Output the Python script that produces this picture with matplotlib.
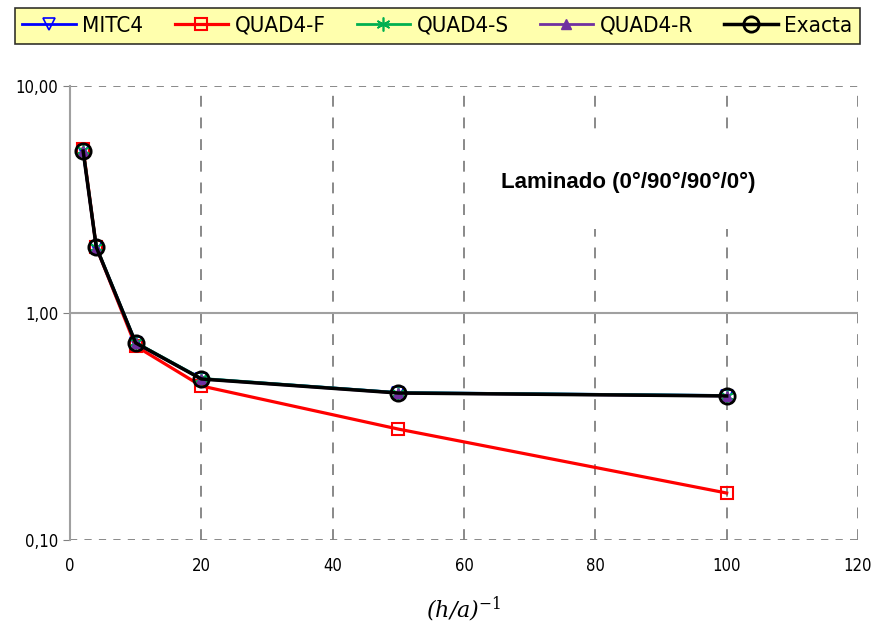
import matplotlib.pyplot as plt
from matplotlib.ticker import FixedLocator, NullLocator

x = [2, 4, 10, 20, 50, 100]
mitc4 = [5.22, 1.96, 0.740, 0.514, 0.446, 0.433]
quad4_f = [5.30, 1.95, 0.715, 0.477, 0.308, 0.161]
quad4_s = [5.25, 1.96, 0.742, 0.515, 0.446, 0.433]
quad4_r = [5.15, 1.94, 0.736, 0.512, 0.444, 0.431]
exacta = [5.17, 1.95, 0.738, 0.512, 0.444, 0.431]

yticks = [0.1, 1, 10]
ylabels = ['0,10', '1,00', '10,00']
xticks = [0, 20, 40, 60, 80, 100, 120]

plt.rcParams['mathtext.fontset'] = 'dejavuserif'

fig = plt.figure(figsize=(8.75, 6.26), dpi=100)
ax = fig.add_axes([0.08, 0.1374, 0.9006, 0.7252])

ax.plot(x, mitc4, color='blue', lw=2, marker='v', ms=8, mfc='none', mew=1.2, label='MITC4')
ax.plot(x, quad4_f, color='red', lw=2.3, marker='s', ms=9, mfc='none', mew=1.5, label='QUAD4-F')
ax.plot(x, quad4_s, color='#00b050', lw=2, marker=(6, 2, 0), ms=10, mew=1.2, label='QUAD4-S')
ax.plot(x, quad4_r, color='#7030a0', lw=2, marker='^', ms=7, label='QUAD4-R')
ax.plot(x, exacta, color='black', lw=2.5, marker='o', ms=11, mfc='none', mew=2, label='Exacta')

ax.set_yscale('log')
ax.set_xlim(0, 120)
ax.set_ylim(0.1, 10)
ax.yaxis.set_major_locator(FixedLocator(yticks))
ax.yaxis.set_minor_locator(NullLocator())
ax.set_yticklabels(ylabels, family='DejaVu Sans', stretch='condensed', fontsize=12)
ax.set_xticks(xticks)
ax.set_xticklabels([str(v) for v in xticks], family='DejaVu Sans', stretch='condensed', fontsize=12)
ax.tick_params(axis='x', length=0, pad=12)
ax.tick_params(axis='y', length=5, color='#808080')

for v in xticks[1:]:
    ax.axvline(v, color='#808080', lw=1.3, ls=(0, (6, 6)), zorder=0)
ax.axhline(10, color='#808080', lw=1.3, ls=(0, (4, 4)), zorder=0)
ax.axhline(0.1, color='#808080', lw=1.3, ls=(0, (4, 4)), zorder=0)
ax.axhline(1, color='#a0a0a0', lw=1.5, zorder=0)

for s in ['top', 'right', 'bottom']:
    ax.spines[s].set_visible(False)
ax.spines['left'].set_color('#a0a0a0')
ax.spines['left'].set_linewidth(1.5)

ax.text(85, 3.75, 'Laminado (0°/90°/90°/0°)', fontsize=16, fontweight='bold',
        family='Liberation Sans', ha='center', va='center',
        bbox=dict(facecolor='white', edgecolor='none', pad=26), zorder=1)

ax.set_xlabel('(h/a)$^{-1}$', fontsize=16, family='DejaVu Serif', style='italic', labelpad=14)

leg = fig.legend(loc='center', bbox_to_anchor=(0.5, 0.9585), ncol=5, frameon=True,
                 fancybox=False, edgecolor='black', facecolor='#ffff99',
                 prop={'family': 'DejaVu Sans', 'stretch': 'condensed', 'size': 16},
                 handlelength=2.4, columnspacing=1.4, handletextpad=0.3, borderpad=0.35)
leg.get_frame().set_linewidth(1.2)

fig.savefig('out.png', dpi=100)
